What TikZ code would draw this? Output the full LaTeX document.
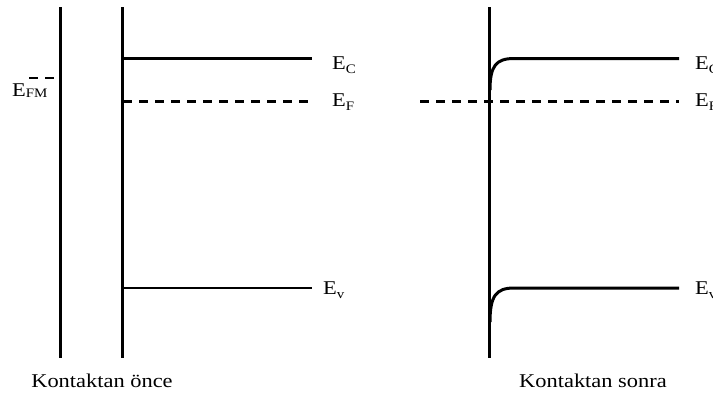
\documentclass[tikz,border=0pt]{standalone}
\usepackage{fontspec}
\setmainfont{Liberation Serif}[FakeStretch=1.15]
\newcommand{\enlevel}[1]{E\raisebox{-0.45ex}{\fontsize{13}{13}\selectfont #1}}
\tikzset{
  wall/.style={line width=3pt, line cap=butt},
  band/.style={line width=3pt},
  thinband/.style={line width=1.5pt},
  fermi/.style={line width=2.5pt, dash pattern=on 9pt off 7pt},
  lbl/.style={inner sep=0pt, anchor=base west, font=\fontsize{19.5}{19.5}\selectfont},
  captext/.style={inner sep=0pt, anchor=base, font=\fontsize{19.5}{19.5}\selectfont}
}
\begin{document}
\begin{tikzpicture}[x=1pt, y=-1pt]
\useasboundingbox (0,0) rectangle (713,394);
% left panel
\coordinate (m1t) at (60,7);   \coordinate (m1b) at (60,358);
\coordinate (s1t) at (122,7);  \coordinate (s1b) at (122,358);
\coordinate (fm1) at (29,78);  \coordinate (fm2) at (60,78);
\coordinate (ca) at (123,58.5); \coordinate (cb) at (312,58.5);
\coordinate (fa) at (123,101.5); \coordinate (fb) at (312,101.5);
\coordinate (va) at (123,288); \coordinate (vb) at (312,288);
\draw[wall] (m1t) -- (m1b);
\draw[wall] (s1t) -- (s1b);
\draw[fermi] (fm1) -- (fm2);
\draw[band] (ca) -- (cb);
\draw[fermi] (fa) -- (fb);
\draw[thinband] (va) -- (vb);
\node[lbl] (efm) at (12,96) {E\raisebox{-0.2ex}{\fontsize{13}{13}\selectfont FM}};
\node[lbl] (ec1) at (332,69) {\enlevel{C}};
\node[lbl] (ef1) at (332,106) {\enlevel{F}};
\node[lbl] (ev1) at (323,294) {\enlevel{v}};
\node[captext] (t1) at (102,387) {Kontaktan önce};
% right panel
\coordinate (m2t) at (489,7);  \coordinate (m2b) at (489,358);
\coordinate (fc) at (420,101.5); \coordinate (fd) at (679,101.5);
\coordinate (cc) at (490,90); \coordinate (cd) at (514,58.5); \coordinate (ce) at (679,58.5);
\coordinate (vc) at (490,322); \coordinate (vd) at (514,288); \coordinate (ve) at (679,288);
\draw[wall] (m2t) -- (m2b);
\draw[fermi] (fc) -- (fd);
\draw[band] (cc) .. controls (490,66) and (496,58.5) .. (cd) -- (ce);
\draw[band] (vc) .. controls (490,296) and (496,288) .. (vd) -- (ve);
\node[lbl] (ec2) at (695,69) {\enlevel{C}};
\node[lbl] (ef2) at (695,106) {\enlevel{F}};
\node[lbl] (ev2) at (695,294) {\enlevel{v}};
\node[captext] (t2) at (593,387) {Kontaktan sonra};
\end{tikzpicture}
\end{document}
